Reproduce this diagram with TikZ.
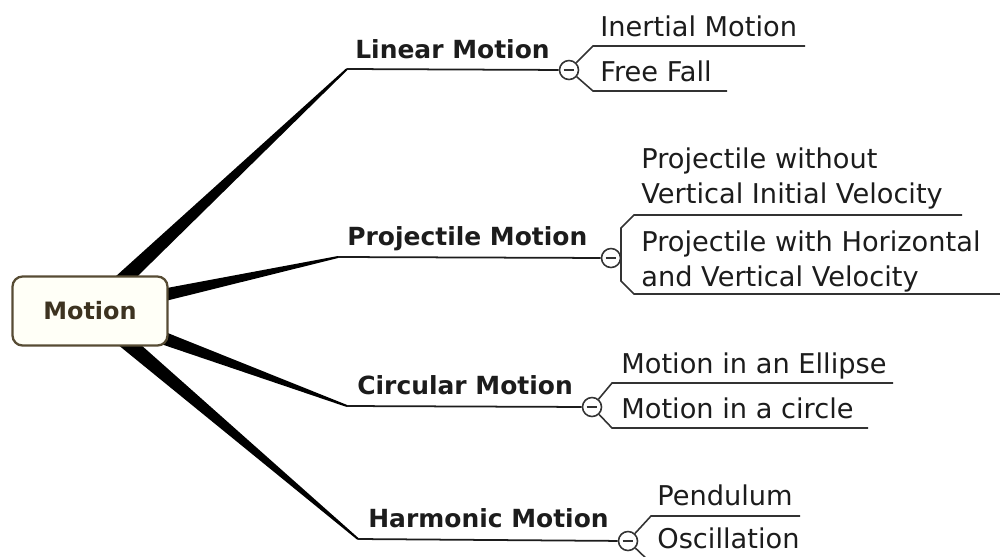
\documentclass[tikz,border=0pt]{standalone}
\usepackage{fontspec}
\setmainfont{DejaVu Sans}
\usetikzlibrary{calc,backgrounds}
\definecolor{ink}{HTML}{1C1C1C}
\definecolor{twiggray}{HTML}{333333}
\definecolor{rootedge}{HTML}{574C34}
\definecolor{rootfill}{HTML}{FFFFF7}
\definecolor{roottext}{HTML}{3D3320}

\begin{document}
\begin{tikzpicture}[
    x=0.02cm, y=-0.02cm,
    hub/.style={draw=rootedge, line width=1.3pt, fill=rootfill, rounded corners=0.2cm,
        minimum width=3.1cm, minimum height=1.38cm, font=\fontsize{13.6}{16}\selectfont\bfseries, text=roottext},
    topic/.style={anchor=base west, inner sep=0pt, font=\fontsize{14.2}{17}\selectfont\bfseries, text=ink},
    leaf/.style={anchor=base west, inner sep=0pt, font=\fontsize{15.5}{20}\selectfont, text=ink},
    leaves/.style={leaf, anchor=north west, align=left},
    fold/.style={circle, draw=twiggray, line width=0.9pt, fill=white, minimum size=0.38cm, inner sep=0pt, text=twiggray},
    limb/.style={to path={($(\tikztostart)!0.17cm!90:(\tikztotarget)$) -- ($(\tikztotarget)!0.02cm!-90:(\tikztostart)$)
        -- ($(\tikztotarget)!0.02cm!90:(\tikztostart)$) -- ($(\tikztostart)!0.17cm!-90:(\tikztotarget)$) -- cycle}},
    under/.style={draw=ink, line width=1pt},
    twig/.style={draw=twiggray, line width=0.9pt}
]
\useasboundingbox (0,0) rectangle (1000,556);
\clip (0,0) rectangle (1000,556);
% ---------------- Root ----------------
\node[hub] (root) at (90,311) {Motion};
% ---------------- Linear Motion ----------------
\coordinate (lin-s) at (347,69);
\node[fold] (lin-c) at (569,70) {\rule[-0.4pt]{6pt}{0.9pt}};
\node[topic] (lin) at (355,58) {Linear Motion};
\draw[under] (lin-s) -- (lin-c);
\coordinate (ine-s) at (593,46);
\coordinate (ine-e) at (805,46);
\coordinate (fre-s) at (593,91);
\coordinate (fre-e) at (727,91);
\draw[twig] (lin-c) -- (ine-s) -- (ine-e);
\draw[twig] (lin-c) -- (fre-s) -- (fre-e);
\node[leaf] (ine) at (600,36) {Inertial Motion};
\node[leaf] (fre) at (600,81) {Free Fall};
% ---------------- Projectile Motion ----------------
\coordinate (pro-s) at (338,257);
\node[topic] (pro) at (347,245) {Projectile Motion};
\coordinate (pw-s) at (634,215);
\coordinate (pw-e) at (962,215);
\coordinate (ph-s) at (634,294);
\coordinate (ph-e) at (1000,294);
\draw[twig] (pw-e) -- (pw-s) -- ++(-13,13) -- ++(0,53) -- (ph-s) -- (ph-e);
\node[fold] (pro-c) at (611,258) {\rule[-0.4pt]{6pt}{0.9pt}};
\draw[under] (pro-s) -- (pro-c);
\node[leaves] (pw) at (641,147) {Projectile without\\Vertical Initial Velocity};
\node[leaves] (ph) at (641,230) {Projectile with Horizontal\\and Vertical Velocity};
% ---------------- Circular Motion ----------------
\coordinate (cir-s) at (347,406);
\node[fold] (cir-c) at (592,407) {\rule[-0.4pt]{6pt}{0.9pt}};
\node[topic] (cir) at (357,394) {Circular Motion};
\draw[under] (cir-s) -- (cir-c);
\coordinate (ell-s) at (612,383);
\coordinate (ell-e) at (893,383);
\coordinate (cic-s) at (612,428);
\coordinate (cic-e) at (868,428);
\draw[twig] (cir-c) -- (ell-s) -- (ell-e);
\draw[twig] (cir-c) -- (cic-s) -- (cic-e);
\node[leaf] (ell) at (621,373) {Motion in an Ellipse};
\node[leaf] (cic) at (621,418) {Motion in a circle};
% ---------------- Harmonic Motion ----------------
\coordinate (har-s) at (358,539);
\node[fold] (har-c) at (628,541) {\rule[-0.4pt]{6pt}{0.9pt}};
\node[topic] (har) at (368,527) {Harmonic Motion};
\draw[under] (har-s) -- (har-c);
\coordinate (pen-s) at (651,516);
\coordinate (pen-e) at (800,516);
\coordinate (osc-s) at (651,563);
\coordinate (osc-e) at (810,563);
\draw[twig] (har-c) -- (pen-s) -- (pen-e);
\draw[twig] (har-c) -- (osc-s) -- (osc-e);
\node[leaf] (pen) at (657,505) {Pendulum};
\node[leaf] (osc) at (657,548) {Oscillation};
% ---------------- Tapered limbs ----------------
\begin{scope}[on background layer]
\fill[black] (root.center) to[limb] (lin-s);
\fill[black] (root.center) to[limb] (pro-s);
\fill[black] (root.center) to[limb] (cir-s);
\fill[black] (root.center) to[limb] (har-s);
\end{scope}
\end{tikzpicture}
\end{document}
